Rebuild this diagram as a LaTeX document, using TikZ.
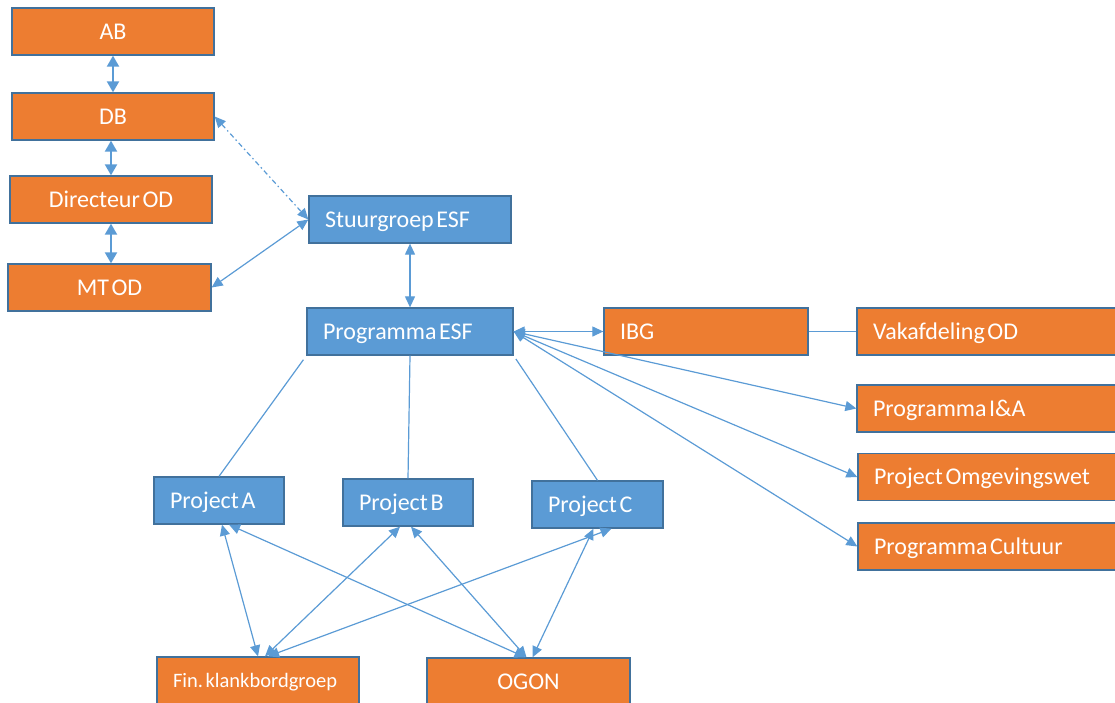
\documentclass[tikz,border=0pt]{standalone}
\usepackage{fontspec}
\setmainfont{Carlito}
\usetikzlibrary{arrows.meta}
\definecolor{boxorange}{HTML}{ED7D31}
\definecolor{boxblue}{HTML}{5B9BD5}
\definecolor{boxedge}{HTML}{41719C}
\definecolor{linkblue}{HTML}{5B9BD5}

\begin{document}
\begin{tikzpicture}[x=1pt, y=-1pt,
  box/.style={draw=boxedge, line width=1.3pt, minimum height=47pt, inner xsep=16pt, inner ysep=0pt, text width=#1, text height=17pt, text depth=2pt, align=left, text=white, font=\fontsize{24}{28}\selectfont, execute at begin node={\spaceskip=2.6pt\relax}},
  obox/.style={box=#1, fill=boxorange},
  bbox/.style={box=#1, fill=boxblue},
  link/.style={draw=linkblue, line width=1.2pt},
  arr/.style={link, {Triangle[length=11pt,width=10pt]}-{Triangle[length=11pt,width=10pt]}},
  bigarr/.style={draw=linkblue, line width=2pt, {Triangle[length=11pt,width=12pt]}-{Triangle[length=11pt,width=12pt]}}
]
  \path[use as bounding box, clip] (0,0) rectangle (1115,702);

  % bestuur
  \node[obox=170pt, align=center] (ab) at (113,31.5) {AB};
  \node[obox=170pt, align=center] (db) at (113,116.5) {DB};
  \node[obox=170pt, align=center] (dir) at (111,199.5) {Directeur OD};
  \node[obox=171pt, align=center] (mt) at (109.5,287.5) {MT OD};

  % programma
  \node[bbox=170pt] (stuur) at (410,219.5) {Stuurgroep ESF};
  \node[bbox=174pt] (prog) at (410,331.5) {Programma ESF};
  \node[obox=172pt] (ibg) at (706,331.5) {IBG};
  \node[obox=238pt] (vak) at (992,331.5) {Vakafdeling OD};
  \node[obox=238pt] (progia) at (992,408.5) {Programma I\&A};
  \node[obox=238pt] (projomg) at (993,477) {Project Omgevingswet};
  \node[obox=238pt] (progcult) at (993,546.5) {Programma Cultuur};

  % projecten
  \node[bbox=98pt] (proja) at (219,500.5) {Project A};
  \node[bbox=98pt] (projb) at (408,502.5) {Project B};
  \node[bbox=99pt] (projc) at (597.5,504.5) {Project C};
  \node[obox=170pt, font=\fontsize{20.5}{24}\selectfont, text height=15pt] (fin) at (258,680.5) {\mbox{Fin.\ klankbordgroep}};
  \node[obox=171pt, align=center] (ogon) at (528.5,681.5) {OGON};

  \draw[bigarr] (ab.south) -- (db.north);
  \draw[bigarr] (dir.north |- db.south) -- (dir.north);
  \draw[bigarr] (dir.south) -- (dir.south |- mt.north);
  \draw[arr, dash pattern=on 5pt off 3pt on 1.5pt off 3pt] (db.east) -- (stuur.west);
  \draw[arr] (mt.east) -- (stuur.west);
  \draw[arr] (stuur.south) -- (prog.north);

  \draw[arr] (prog.east) -- (ibg.west);
  \draw[link] (ibg.east) -- (vak.west);
  \draw[arr] (prog.east) -- (progia.west);
  \draw[arr] (prog.east) -- (projomg.west);
  \draw[arr] (prog.east) -- (progcult.west);

  \draw[link, shorten <=5pt] (prog.south west) -- (proja.north);
  \draw[link] (prog.south) -- (projb.north);
  \draw[link, shorten <=4pt] (prog.south east) -- (projc.north);

  \draw[arr] ([xshift=3pt]proja.south) -- (fin.north);
  \draw[arr] ([xshift=10pt]proja.south) -- ([xshift=-3pt]ogon.north);
  \draw[arr] ([xshift=-8pt]projb.south) -- ([xshift=7pt]fin.north);
  \draw[arr] ([xshift=3pt]projb.south) -- ([xshift=-2pt]ogon.north);
  \draw[arr] ([xshift=14pt]projc.south) -- ([xshift=10pt]fin.north);
  \draw[arr] ([xshift=-4pt]projc.south) -- ([xshift=4pt]ogon.north);
\end{tikzpicture}
\end{document}
